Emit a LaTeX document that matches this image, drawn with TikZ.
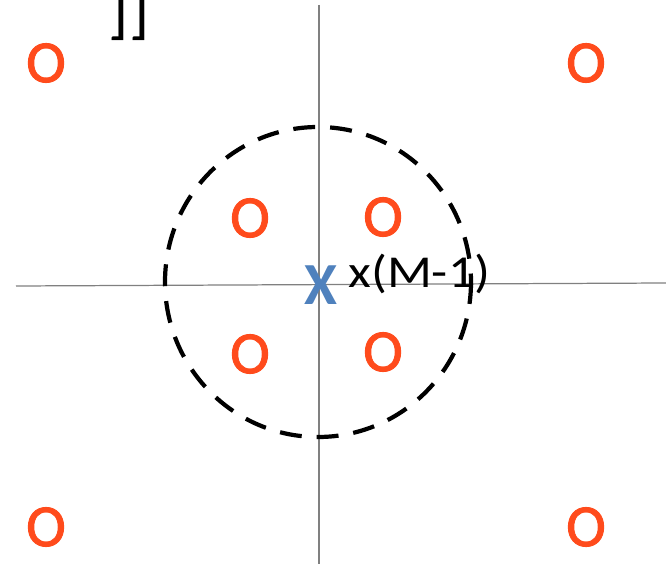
\documentclass[tikz,border=0pt]{standalone}
\usepackage{fontspec}
\setmainfont{Carlito}
\newfontfamily\ptfont[FakeBold=1.6]{Carlito}
\usetikzlibrary{positioning}
\definecolor{orange}{RGB}{255,75,28}
\definecolor{blue}{RGB}{79,129,189}
\definecolor{axisgray}{RGB}{128,128,128}
\begin{document}
\begin{tikzpicture}[x=0.02cm,y=-0.02cm,
  pt/.style={text=orange, font=\ptfont\fontsize{34}{34}\selectfont, inner sep=0pt},
  lbl/.style={font=\fontsize{26}{26}\selectfont, inner sep=0pt}]
\useasboundingbox (0,0) rectangle (666,564);
% axes
\coordinate (xl) at (16,286);
\coordinate (xr) at (666,283);
\coordinate (yt) at (319,5);
\coordinate (yb) at (319,564);
\draw[axisgray, line width=0.7pt] (xl)--(xr);
\draw[axisgray, line width=0.7pt] (yt)--(yb);
% decision circle
\draw[black, line width=2.4pt, dash pattern=on 12.5pt off 8.5pt] (318,282) ellipse [x radius=153, y radius=155];
% constellation points
\node[pt] (p1) at (46,63) {O};
\node[pt] (p2) at (586,63) {O};
\node[pt] (p3) at (250,218) {O};
\node[pt] (p4) at (383,217) {O};
\node[pt] (p5) at (250,354) {O};
\node[pt] (p6) at (383,352) {O};
\node[pt] (p7) at (46,527) {O};
\node[pt] (p8) at (586,527) {O};
% received sample
\node[text=blue, font=\fontsize{34}{34}\bfseries\selectfont, inner sep=0pt] (rx) at (321,285) {X};
\node[lbl, anchor=base west] (rxlbl) at (348,288) {\scalebox{1.15}[1]{x(M-1)}};
\node[lbl, anchor=base east, font=\fontsize{38}{38}\selectfont] (top) at (150,32) {]]};
\end{tikzpicture}
\end{document}
